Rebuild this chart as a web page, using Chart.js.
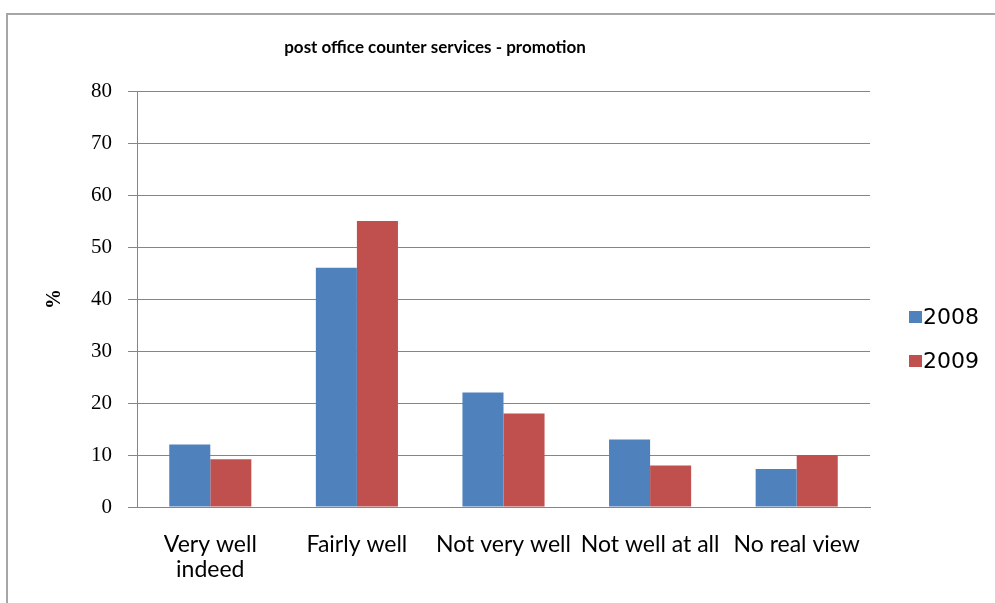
<!DOCTYPE html>
<html>
<head>
<meta charset="utf-8">
<title>post office counter services - promotion</title>
<script src="https://cdn.jsdelivr.net/npm/chart.js@4.4.1/dist/chart.umd.min.js"></script>
<style>
  html, body { margin: 0; padding: 0; background: #fff; }
  #wrap { position: relative; width: 995px; height: 603px; }
</style>
</head>
<body>
<div id="wrap"><canvas id="chart" width="995" height="603"></canvas></div>
<script>
// Survey answers, percent of respondents per year
const categories = [['Very well', 'indeed'], 'Fairly well', 'Not very well', 'Not well at all', 'No real view'];
const seriesNames = ['2008', '2009'];
const values2008 = [12, 46, 22, 13, 7.3];
const values2009 = [9.2, 55, 18, 8, 10];
const yTicks = [0, 10, 20, 30, 40, 50, 60, 70, 80];

const BLUE = '#4F81BD';
const RED = '#C0504D';
const GRID = '#868686';

// Thin frame along the top and left edges of the chart panel
const framePlugin = {
  id: 'frame',
  beforeDraw(chart) {
    const ctx = chart.ctx;
    ctx.save();
    ctx.fillStyle = '#ffffff';
    ctx.fillRect(0, 0, chart.width, chart.height);
    ctx.strokeStyle = '#a6a6a6';
    ctx.lineWidth = 2;
    ctx.beginPath();
    ctx.moveTo(7, chart.height);
    ctx.lineTo(7, 14);
    ctx.lineTo(chart.width, 14);
    ctx.stroke();
    ctx.restore();
  }
};

// Legend to the right of the plot: colour square + series name
const sideLegend = {
  id: 'sideLegend',
  afterDraw(chart) {
    const ctx = chart.ctx;
    const area = chart.chartArea;
    ctx.save();
    ctx.font = '22px "DejaVu Sans"';
    ctx.textBaseline = 'middle';
    ctx.textAlign = 'left';
    chart.data.datasets.forEach((ds, i) => {
      const cy = area.top + 226 + i * 44;
      const x = area.right + 39;
      ctx.fillStyle = ds.backgroundColor;
      ctx.fillRect(x, cy - 6, 13, 12);
      ctx.fillStyle = '#000';
      ctx.fillText(ds.label, x + 14, cy + 1);
    });
    ctx.restore();
  }
};

new Chart(document.getElementById('chart'), {
  type: 'bar',
  data: {
    labels: categories,
    datasets: [
      { label: seriesNames[0], data: values2008, backgroundColor: BLUE, borderWidth: 0 },
      { label: seriesNames[1], data: values2009, backgroundColor: RED, borderWidth: 0 }
    ]
  },
  options: {
    responsive: false,
    animation: false,
    devicePixelRatio: 1,
    layout: { padding: { left: 0, top: 0, right: 125, bottom: 0 } },
    datasets: {
      bar: { categoryPercentage: 0.56, barPercentage: 1.0 }
    },
    plugins: {
      legend: { display: false },
      tooltip: { enabled: false },
      title: {
        display: true,
        text: 'post office counter services - promotion',
        color: '#000',
        font: { family: 'Lato', size: 17, weight: 'bold', lineHeight: 1.2 },
        padding: { top: 37, bottom: 33.6 }
      }
    },
    scales: {
      x: {
        afterFit(scale) {
          scale.height = 96;
        },
        grid: { display: false },
        border: { display: true, color: GRID, width: 1 },
        ticks: {
          color: '#000',
          font: { family: 'Lato', size: 23, lineHeight: 1.05 },
          padding: 18,
          maxRotation: 0,
          autoSkip: false
        }
      },
      y: {
        min: 0,
        max: 80,
        afterBuildTicks(scale) {
          scale.ticks = yTicks.map(v => ({ value: v }));
        },
        afterFit(scale) {
          scale.width = 137;
        },
        grid: { color: GRID, lineWidth: 1, tickLength: 9, drawTicks: true },
        border: { display: true, color: GRID, width: 1 },
        ticks: {
          color: '#000',
          font: { family: 'Liberation Serif', size: 21 },
          padding: 16
        },
        title: {
          display: true,
          text: '%',
          color: '#000',
          font: { family: 'Liberation Serif', size: 20, weight: 'bold', lineHeight: 1.2 },
          padding: { top: 43, bottom: 0 }
        }
      }
    }
  },
  plugins: [framePlugin, sideLegend]
});
</script>
</body>
</html>
